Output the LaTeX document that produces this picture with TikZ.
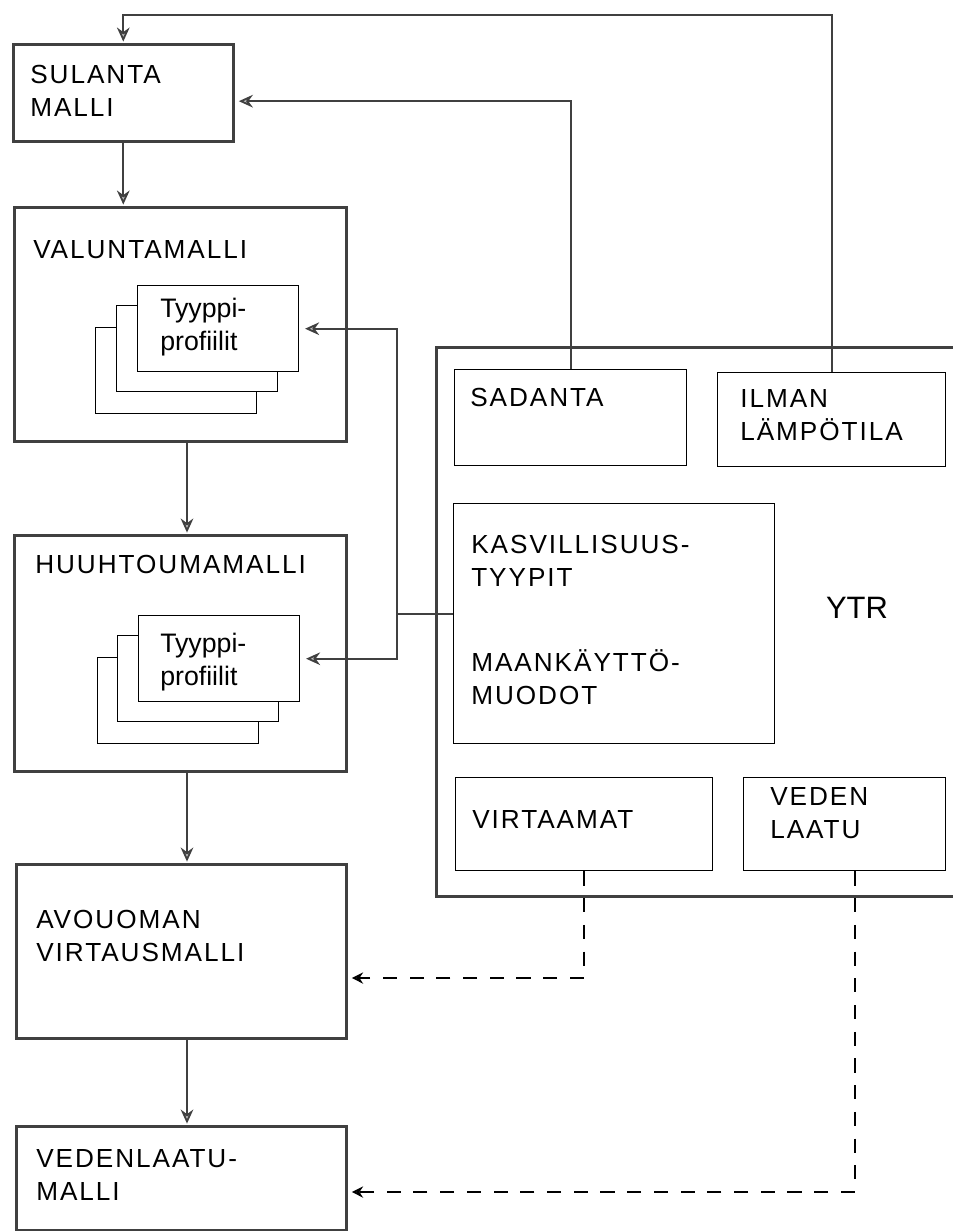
\documentclass[tikz,border=0pt]{standalone}
\usepackage{fontspec}
\setmainfont{Liberation Sans}
\newfontfamily\capsfont{Liberation Sans}[LetterSpace=7.5]
\usetikzlibrary{arrows.meta}

\begin{document}
\begin{tikzpicture}[
    x = 0.025cm, y = -0.025cm,
    malli/.style = {draw = black!75, line width = 1.8pt, anchor = north west, inner sep = 0pt},
    osa/.style = {draw, line width = 1pt, anchor = north west, inner sep = 0pt},
    kortti/.style = {osa, fill = white, minimum width = 4.025cm, minimum height = 2.15cm},
    teksti/.style = {anchor = north west, inner sep = 0pt, align = left,
        font = \capsfont\fontsize{18.6}{23.5}\selectfont},
    pieni/.style = {teksti, font = \fontsize{19}{23.5}\selectfont},
    linja/.style = {draw = black!75, line width = 1.3pt},
    nuoli/.style = {linja, -{Stealth[length = 10pt, width = 9pt, fill = gray!50]}, shorten >= 1pt},
    katko/.style = {line width = 1.7pt, dash pattern = on 10pt off 9pt,
        -{Stealth[length = 8pt, width = 8pt, fill = gray!40]}, shorten >= 3pt}]

\useasboundingbox (0,0) rectangle (953,1231);

% mallit vasemmalla
\node[malli, minimum width = 5.5cm, minimum height = 2.425cm] (sulanta) at (12,43) {};
\node[malli, minimum width = 8.3cm, minimum height = 5.85cm] (valunta) at (13,206) {};
\node[malli, minimum width = 8.3cm, minimum height = 5.9cm] (huuhtouma) at (13,534) {};
\node[malli, minimum width = 8.25cm, minimum height = 4.35cm] (avouoma) at (15,863) {};
\node[malli, minimum width = 8.25cm, minimum height = 2.6cm] (vedenlaatu) at (15,1125) {};

% tyyppiprofiilit
\node[kortti] (tp1c) at (95,327) {};
\node[kortti] (tp1b) at (116,305) {};
\node[kortti] (tp1) at (137,285) {};
\node[kortti] (tp2c) at (97,657) {};
\node[kortti] (tp2b) at (117,635) {};
\node[kortti] (tp2) at (138,615) {};

% YTR
\node[malli, minimum width = 13.375cm, minimum height = 13.725cm] (ytr) at (435,346) {};
\node[osa, minimum width = 5.8cm, minimum height = 2.4cm] (sadanta) at (454,369) {};
\node[osa, minimum width = 5.7cm, minimum height = 2.35cm] (ilman) at (717,372) {};
\node[osa, minimum width = 8.025cm, minimum height = 6cm] (kasv) at (453,503) {};
\node[osa, minimum width = 6.425cm, minimum height = 2.325cm] (virtaamat) at (455,777) {};
\node[osa, minimum width = 5.05cm, minimum height = 2.325cm] (veden) at (743,777) {};

% tekstit
\node[teksti] (sulantat) at (30,65) {SULANTA\\MALLI};
\node[teksti] (valuntat) at (33,240) {VALUNTAMALLI};
\node[teksti] (huuhtoumat) at (35,555) {HUUHTOUMAMALLI};
\node[teksti] (avouomat) at (36,910) {AVOUOMAN\\VIRTAUSMALLI};
\node[teksti] (vedenlaatut) at (36,1149) {VEDENLAATU-\\MALLI};
\node[pieni] (tp1t) at (160,298) {Tyyppi-\\profiilit};
\node[pieni] (tp2t) at (160,633) {Tyyppi-\\profiilit};
\node[teksti] (sadantat) at (470,388) {SADANTA};
\node[teksti] (ilmant) at (740,389) {ILMAN\\LÄMPÖTILA};
\node[teksti] (kasvt) at (471,535) {KASVILLISUUS-\\TYYPIT};
\node[teksti] (maant) at (471,649) {MAANKÄYTTÖ-\\MUODOT};
\node[inner sep = 0pt, font = \fontsize{22}{26}\selectfont] (ytrt) at (857,608) {YTR};
\node[teksti] (virtaamatt) at (472,810) {VIRTAAMAT};
\node[teksti] (vedent) at (770,787) {VEDEN\\LAATU};

% yhteydet
\coordinate (ylin) at (0,15);
\coordinate (arrx) at (187,0);
\coordinate (jun) at (397,614);
\coordinate (d1) at (0,978);
\coordinate (d2) at (855,1192);

\draw[nuoli] (ilman.north) -- (ilman.north |- ylin) -| (sulanta.north);
\draw[nuoli, shorten >= 3pt] (sadanta.north) |- ([yshift = -0.21cm]sulanta.east);
\draw[nuoli] (sulanta.south) -- (sulanta.south |- valunta.north);
\draw[nuoli] (valunta.south -| arrx) -- (huuhtouma.north -| arrx);
\draw[nuoli] (huuhtouma.south -| arrx) -- (avouoma.north -| arrx);
\draw[nuoli] (avouoma.south -| arrx) -- (vedenlaatu.north -| arrx);

\draw[linja] (kasv.west |- jun) -- (jun);
\draw[nuoli, shorten >= 4pt] (jun) -- (jun |- tp1.east) -- (tp1.east);
\draw[nuoli, shorten >= 4pt] (jun) -- (jun |- tp2.east) -- (tp2.east);

\draw[katko] (virtaamat.south) |- (avouoma.east |- d1);
\draw[katko] (veden.south -| d2) |- (vedenlaatu.east |- d2);
\end{tikzpicture}
\end{document}
